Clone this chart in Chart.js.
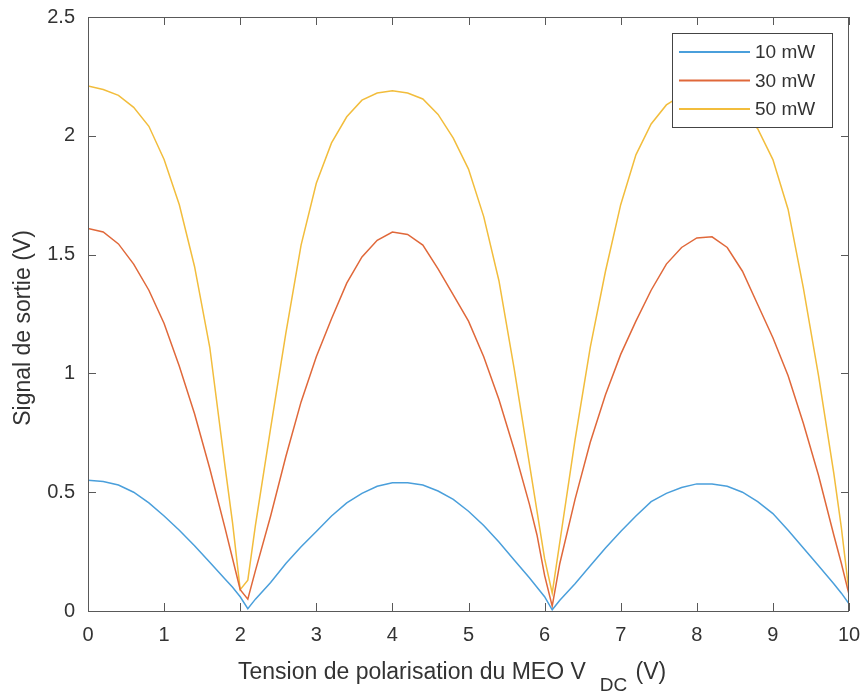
<!DOCTYPE html>
<html>
<head>
<meta charset="utf-8">
<script src="https://cdn.jsdelivr.net/npm/chart.js@4.4.1/dist/chart.umd.min.js"></script>
<style>
  html, body { margin: 0; padding: 0; background: #fff; }
  #wrap { width: 862px; height: 693px; }
</style>
</head>
<body>
<div id="wrap"><canvas id="chart" width="862" height="693"></canvas></div>
<script>
// tension VDC (V)
const vdc = [0, 0.2, 0.4, 0.6, 0.8, 1.0, 1.2, 1.4, 1.6, 1.8, 1.9, 2.0, 2.1,
  2.2, 2.4, 2.6, 2.8, 3.0, 3.2, 3.4, 3.6, 3.8, 4.0, 4.2, 4.4, 4.6, 4.8, 5.0, 5.2, 5.4, 5.6, 5.8,
  5.9, 6.0, 6.1,
  6.2, 6.4, 6.6, 6.8, 7.0, 7.2, 7.4, 7.6, 7.8, 8.0, 8.2, 8.4, 8.6, 8.8, 9.0, 9.2, 9.4, 9.6, 9.8,
  9.9, 10.0];

// signal de sortie (V)
const sig10 = [0.55, 0.545, 0.53, 0.50, 0.455, 0.40, 0.34, 0.275, 0.205, 0.135, 0.10, 0.06, 0.01,
  0.05, 0.12, 0.20, 0.27, 0.335, 0.40, 0.455, 0.495, 0.525, 0.54, 0.54, 0.53, 0.505, 0.47, 0.42, 0.36, 0.29, 0.215, 0.14,
  0.10, 0.06, 0.005,
  0.045, 0.115, 0.19, 0.265, 0.335, 0.40, 0.46, 0.495, 0.52, 0.535, 0.535, 0.525, 0.50, 0.46, 0.41, 0.34, 0.265, 0.19, 0.115,
  0.075, 0.03];
const sig30 = [1.61, 1.595, 1.545, 1.46, 1.35, 1.21, 1.03, 0.83, 0.60, 0.35, 0.22, 0.09, 0.05,
  0.17, 0.40, 0.65, 0.88, 1.07, 1.23, 1.38, 1.49, 1.56, 1.595, 1.585, 1.54, 1.44, 1.33, 1.22, 1.07, 0.89, 0.68, 0.45,
  0.32, 0.15, 0.02,
  0.20, 0.47, 0.71, 0.91, 1.08, 1.22, 1.35, 1.46, 1.53, 1.57, 1.575, 1.53, 1.43, 1.29, 1.15, 0.99, 0.79, 0.57, 0.32,
  0.20, 0.07];
const sig50 = [2.21, 2.195, 2.17, 2.12, 2.04, 1.90, 1.71, 1.45, 1.11, 0.61, 0.37, 0.09, 0.13,
  0.36, 0.77, 1.17, 1.54, 1.80, 1.97, 2.08, 2.15, 2.18, 2.19, 2.18, 2.155, 2.09, 1.99, 1.86, 1.66, 1.39, 1.02, 0.62,
  0.42, 0.22, 0.075,
  0.29, 0.72, 1.11, 1.43, 1.71, 1.92, 2.05, 2.13, 2.17, 2.18, 2.175, 2.15, 2.10, 2.03, 1.90, 1.69, 1.36, 0.99, 0.58,
  0.35, 0.08];

const seriesNames = ['10 mW', '30 mW', '50 mW'];
const xTicks = [0, 1, 2, 3, 4, 5, 6, 7, 8, 9, 10];
const yTicks = [0, 0.5, 1, 1.5, 2, 2.5];
const xTitleParts = ['Tension de polarisation du MEO V', 'DC', ' (V)'];
const yTitle = 'Signal de sortie (V)';

const FONT = "'Liberation Sans', Arial, Helvetica, sans-serif";
const AXIS_COLOR = '#595959';
const TEXT_COLOR = '#333333';
const colors = ['#4a9fdb', '#e0683a', '#f2bd3c'];

const toPoints = ys => vdc.map((x, i) => ({ x: x, y: ys[i] }));

// axes facon MATLAB : boite, ticks vers l'interieur, legende encadree
const matlabBox = {
  id: 'matlabBox',
  afterDatasetsDraw(chart) {
    const { ctx, chartArea: a, scales } = chart;
    const tl = 8;
    ctx.save();
    ctx.strokeStyle = AXIS_COLOR;
    ctx.lineWidth = 1;
    ctx.strokeRect(a.left + 0.5, a.top + 0.5, a.right - a.left - 1, a.bottom - a.top);
    ctx.beginPath();
    xTicks.forEach(v => {
      const px = Math.round(scales.x.getPixelForValue(v)) + 0.5;
      ctx.moveTo(px, a.bottom); ctx.lineTo(px, a.bottom - tl);
      ctx.moveTo(px, a.top); ctx.lineTo(px, a.top + tl);
    });
    yTicks.forEach(v => {
      const py = Math.round(scales.y.getPixelForValue(v)) + 0.5;
      ctx.moveTo(a.left, py); ctx.lineTo(a.left + tl, py);
      ctx.moveTo(a.right, py); ctx.lineTo(a.right - tl, py);
    });
    ctx.stroke();
    ctx.restore();
  },
  afterDraw(chart) {
    const { ctx } = chart;
    ctx.save();

    // legende
    const lx = 672, ly = 33, lw = 160, lh = 94;
    ctx.fillStyle = '#fff';
    ctx.fillRect(lx, ly, lw, lh);
    ctx.strokeStyle = '#444';
    ctx.lineWidth = 1;
    ctx.strokeRect(lx + 0.5, ly + 0.5, lw, lh);
    ctx.font = '19px ' + FONT;
    ctx.textBaseline = 'middle';
    ctx.textAlign = 'left';
    chart.data.datasets.forEach((ds, i) => {
      const y = ly + 19 + i * 28.5;
      ctx.strokeStyle = ds.borderColor;
      ctx.lineWidth = 2.2;
      ctx.beginPath();
      ctx.moveTo(lx + 7, y); ctx.lineTo(lx + 78, y);
      ctx.stroke();
      ctx.fillStyle = TEXT_COLOR;
      ctx.fillText(ds.label, lx + 83, y + 1);
    });

    // titre axe x avec indice
    ctx.fillStyle = TEXT_COLOR;
    ctx.textBaseline = 'alphabetic';
    ctx.font = '23px ' + FONT;
    let x = 238;
    ctx.fillText(xTitleParts[0], x, 679);
    x += ctx.measureText(xTitleParts[0]).width + 14;
    ctx.font = '19px ' + FONT;
    ctx.fillText(xTitleParts[1], x, 691);
    x += ctx.measureText(xTitleParts[1]).width + 2;
    ctx.font = '23px ' + FONT;
    ctx.fillText(xTitleParts[2], x, 679);

    // titre axe y
    ctx.translate(30, 328);
    ctx.rotate(-Math.PI / 2);
    ctx.textAlign = 'center';
    ctx.fillText(yTitle, 0, 0);
    ctx.restore();
  }
};

new Chart(document.getElementById('chart'), {
  type: 'line',
  data: {
    datasets: [
      { label: seriesNames[0], data: toPoints(sig10), borderColor: colors[0] },
      { label: seriesNames[1], data: toPoints(sig30), borderColor: colors[1] },
      { label: seriesNames[2], data: toPoints(sig50), borderColor: colors[2] }
    ].map(d => Object.assign(d, { borderWidth: 1.5, pointRadius: 0, tension: 0, fill: false }))
  },
  options: {
    responsive: false,
    animation: false,
    devicePixelRatio: 1,
    layout: { padding: { left: 0, right: 13, top: 17, bottom: 0 } },
    plugins: { legend: { display: false }, tooltip: { enabled: false } },
    scales: {
      x: {
        type: 'linear', min: 0, max: 10,
        afterBuildTicks: s => { s.ticks = xTicks.map(v => ({ value: v })); },
        afterFit: s => { s.height = 82; s.paddingLeft = 0; s.paddingRight = 0; },
        grid: { display: false, drawTicks: false },
        border: { display: false },
        ticks: { color: TEXT_COLOR, font: { family: FONT, size: 20 }, padding: 12, maxRotation: 0,
          callback: v => String(v) }
      },
      y: {
        type: 'linear', min: 0, max: 2.5,
        afterBuildTicks: s => { s.ticks = yTicks.map(v => ({ value: v })); },
        afterFit: s => { s.width = 88; s.paddingTop = 0; s.paddingBottom = 0; },
        grid: { display: false, drawTicks: false },
        border: { display: false },
        ticks: { color: TEXT_COLOR, font: { family: FONT, size: 20 }, padding: 13,
          callback: v => String(v) }
      }
    }
  },
  plugins: [matlabBox]
});
</script>
</body>
</html>
